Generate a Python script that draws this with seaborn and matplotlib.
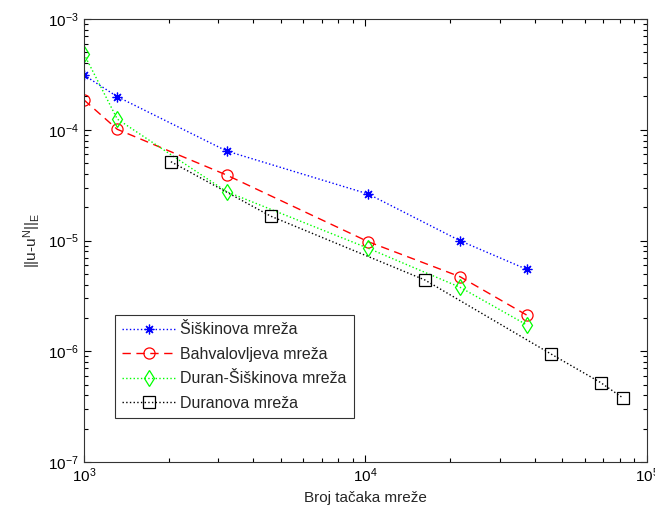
import matplotlib
matplotlib.use("Agg")
import matplotlib.pyplot as plt
import numpy as np
import pandas as pd
import seaborn as sns

# Data (log-log convergence plot)
x_siskin = [1000, 1313, 3213, 10230, 21680, 37410]
y_siskin = [3.12e-4, 1.99e-4, 6.43e-5, 2.63e-5, 9.95e-6, 5.49e-6]

x_bahv = [1000, 1313, 3213, 10230, 21680, 37410]
y_bahv = [1.86e-4, 1.01e-4, 3.90e-5, 9.75e-6, 4.71e-6, 2.12e-6]

x_duran_sis = [1000, 1313, 3213, 10230, 21680, 37410]
y_duran_sis = [4.83e-4, 1.25e-4, 2.76e-5, 8.51e-6, 3.78e-6, 1.73e-6]

x_duran = [2036, 4604, 16260, 45630, 68400, 81880]
y_duran = [5.15e-5, 1.66e-5, 4.40e-6, 9.44e-7, 5.22e-7, 3.81e-7]

labels = ["Šiškinova mreža", "Bahvalovljeva mreža",
          "Duran-Šiškinova mreža", "Duranova mreža"]

sns.set_theme(style="ticks")
plt.rcParams["font.family"] = ["Liberation Sans", "DejaVu Sans"]
plt.rcParams["mathtext.default"] = "regular"

fig = plt.figure(figsize=(6.55, 5.21), dpi=100)
ax = fig.add_axes([0.1282, 0.1132, 0.8596, 0.8503])

series = [
    (x_siskin, y_siskin, "#0000ff", ":", (8, 2, 0), 7),
    (x_bahv, y_bahv, "#ff0000", (0, (6, 4)), "o", 8),
    (x_duran_sis, y_duran_sis, "#00ff00", ":", "d", 8),
    (x_duran, y_duran, "#000000", ":", "s", 8),
]
for (xs, ys, col, ls, mk, ms), lab in zip(series, labels):
    df = pd.DataFrame({"x": xs, "y": ys})
    sns.lineplot(data=df, x="x", y="y", ax=ax, color=col, linestyle=ls,
                 marker=mk, markersize=ms, markerfacecolor="none",
                 markeredgecolor=col, markeredgewidth=0.9, linewidth=1.0,
                 label=lab, sort=False)

ax.set_xscale("log")
ax.set_yscale("log")
ax.set_xlim(1e3, 1e5)
ax.set_ylim(1e-7, 1e-3)
ax.tick_params(which="both", direction="in", top=True, right=True,
               labelsize=11, colors="black")
ax.tick_params(which="major", length=5, width=0.8)
ax.tick_params(which="minor", length=3, width=0.8)
for s in ax.spines.values():
    s.set_linewidth(0.8)
    s.set_color("#333333")

ax.set_xlabel("Broj tačaka mreže", fontsize=11)
ax.set_ylabel("||u-u$^N$||$_E$", fontsize=11)

leg = ax.legend(loc="upper left", bbox_to_anchor=(0.055, 0.332), fontsize=11.5,
                frameon=True, fancybox=False, edgecolor="black",
                handlelength=3.4, borderpad=0.45, labelspacing=0.6,
                handletextpad=0.25, borderaxespad=0.0)
leg.get_frame().set_linewidth(0.8)

fig.savefig("out.png", dpi=100)
